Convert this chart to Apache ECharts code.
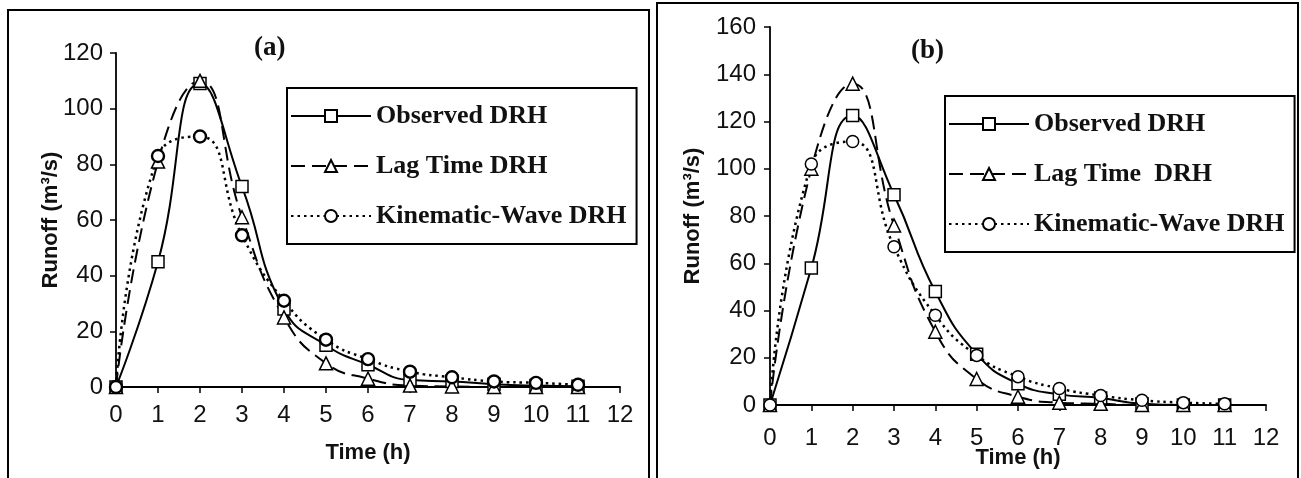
<!DOCTYPE html>
<html>
<head>
<meta charset="utf-8">
<script src="https://cdn.jsdelivr.net/npm/echarts@6/dist/echarts.min.js"></script>
<style>
  html, body { margin: 0; padding: 0; background: #fff; }
  #chart { width: 1301px; height: 478px; }
</style>
</head>
<body>
<div id="chart"></div>
<script>
// hours 0..11
const hours = [0, 1, 2, 3, 4, 5, 6, 7, 8, 9, 10, 11]

// panel (a)
const observedA = [0, 45, 109, 72, 28, 15, 8, 2.5, 2, 1, 0.5, 0.3]
const lagTimeA = [0, 81, 110, 61, 25, 8.5, 3, 0.5, 0.2, 0, 0, 0]
const kinematicA = [0, 83, 90, 54.5, 31, 17, 10, 5.5, 3.5, 2, 1.5, 0.8]

// panel (b)
const observedB = [0, 58, 122.5, 89, 48, 21.5, 9, 4.5, 3, 0.5, 0, 0]
const lagTimeB = [0, 100, 136, 76, 31, 11, 3.5, 1, 0.5, 0, 0, 0]
const kinematicB = [0, 102, 111.5, 67, 38, 21, 12, 7, 4, 2, 1, 0.5]

const namesA = ['Observed DRH', 'Lag Time DRH', 'Kinematic-Wave DRH']
const namesB = ['Observed DRH', 'Lag Time  DRH', 'Kinematic-Wave DRH']

const pairs = vals => hours.map((h, i) => [h, vals[i]])

const labelFont = { fontFamily: 'Liberation Sans', fontSize: 24, color: '#111' }
const nameFont = { fontFamily: 'Liberation Sans', fontSize: 22, fontWeight: 'bold', color: '#111' }
const serifBold = { fontFamily: 'Liberation Serif', fontWeight: 'bold', color: '#111' }

const makeX = (gridIndex, labelMargin, nameGap) => ({
  type: 'value', gridIndex, min: 0, max: 12, interval: 1,
  name: 'Time (h)', nameLocation: 'middle', nameGap, nameMoveOverlap: false,
  nameTextStyle: nameFont,
  axisLine: { lineStyle: { color: '#000', width: 1.8 } },
  axisTick: { show: true, inside: false, length: 6, lineStyle: { color: '#000', width: 1.5 } },
  axisLabel: Object.assign({ margin: labelMargin }, labelFont),
  splitLine: { show: false }
})

const makeY = (gridIndex, max, labelMargin, nameGap) => ({
  type: 'value', gridIndex, min: 0, max, interval: 20,
  name: 'Runoff (m³/s)', nameLocation: 'middle', nameGap, nameMoveOverlap: false,
  nameTextStyle: nameFont,
  axisLine: { show: true, lineStyle: { color: '#000', width: 1.8 } },
  axisTick: { show: true, inside: false, length: 6, lineStyle: { color: '#000', width: 1.5 } },
  axisLabel: Object.assign({ margin: labelMargin }, labelFont),
  splitLine: { show: false }
})

const makeSeries = (name, vals, idx, symbol, lineType, lineW, borderW) => ({
  name, type: 'line', xAxisIndex: idx, yAxisIndex: idx,
  data: pairs(vals), smooth: true,
  symbol, symbolSize: symbol === 'triangle' ? 13 : 12,
  lineStyle: { color: '#000', width: lineW, type: lineType },
  itemStyle: { color: '#fff', borderColor: '#000', borderWidth: borderW },
  emphasis: { disabled: true }
})

const makeLegend = (data, left, top) => ({
  data, orient: 'vertical', left, top,
  itemWidth: 80, itemHeight: 15, itemGap: 24,
  padding: [15, 10, 15, 3],
  borderColor: '#000', borderWidth: 2, backgroundColor: '#fff',
  textStyle: Object.assign({ fontSize: 26 }, serifBold),
  selectedMode: false
})

const chart = echarts.init(document.getElementById('chart'))
chart.setOption({
  animation: false,
  backgroundColor: '#fff',
  title: [
    { text: '(a)', left: 249, top: 30, textStyle: Object.assign({ fontSize: 27 }, serifBold) },
    { text: '(b)', left: 906, top: 33, textStyle: Object.assign({ fontSize: 27 }, serifBold) }
  ],
  graphic: [
    { type: 'rect', shape: { x: 8, y: 10, width: 641, height: 480 }, style: { fill: 'none', stroke: '#000', lineWidth: 2 }, z: -1 },
    { type: 'rect', shape: { x: 657, y: 3, width: 641, height: 490 }, style: { fill: 'none', stroke: '#000', lineWidth: 2 }, z: -1 }
  ],
  legend: [
    makeLegend(namesA, 287, 88),
    makeLegend(namesB, 945, 96)
  ],
  grid: [
    { left: 116, right: 681, top: 53, bottom: 91, outerBoundsMode: 'none' },
    { left: 770, right: 35, top: 27, bottom: 73, outerBoundsMode: 'none' }
  ],
  xAxis: [makeX(0, 16, 55), makeX(1, 21, 42)],
  yAxis: [makeY(0, 120, 13, 54), makeY(1, 160, 14, 66)],
  series: [
    makeSeries(namesA[0], observedA, 0, 'rect', 'solid', 2, 1.5),
    makeSeries(namesA[1], lagTimeA, 0, 'triangle', [14, 7], 2, 1.5),
    makeSeries(namesA[2], kinematicA, 0, 'circle', [2.5, 4], 2.5, 2.4),
    makeSeries(namesB[0], observedB, 1, 'rect', 'solid', 2, 1.5),
    makeSeries(namesB[1], lagTimeB, 1, 'triangle', [14, 7], 2, 1.5),
    makeSeries(namesB[2], kinematicB, 1, 'circle', [2.5, 4], 2.5, 1.5)
  ]
})
</script>
</body>
</html>
